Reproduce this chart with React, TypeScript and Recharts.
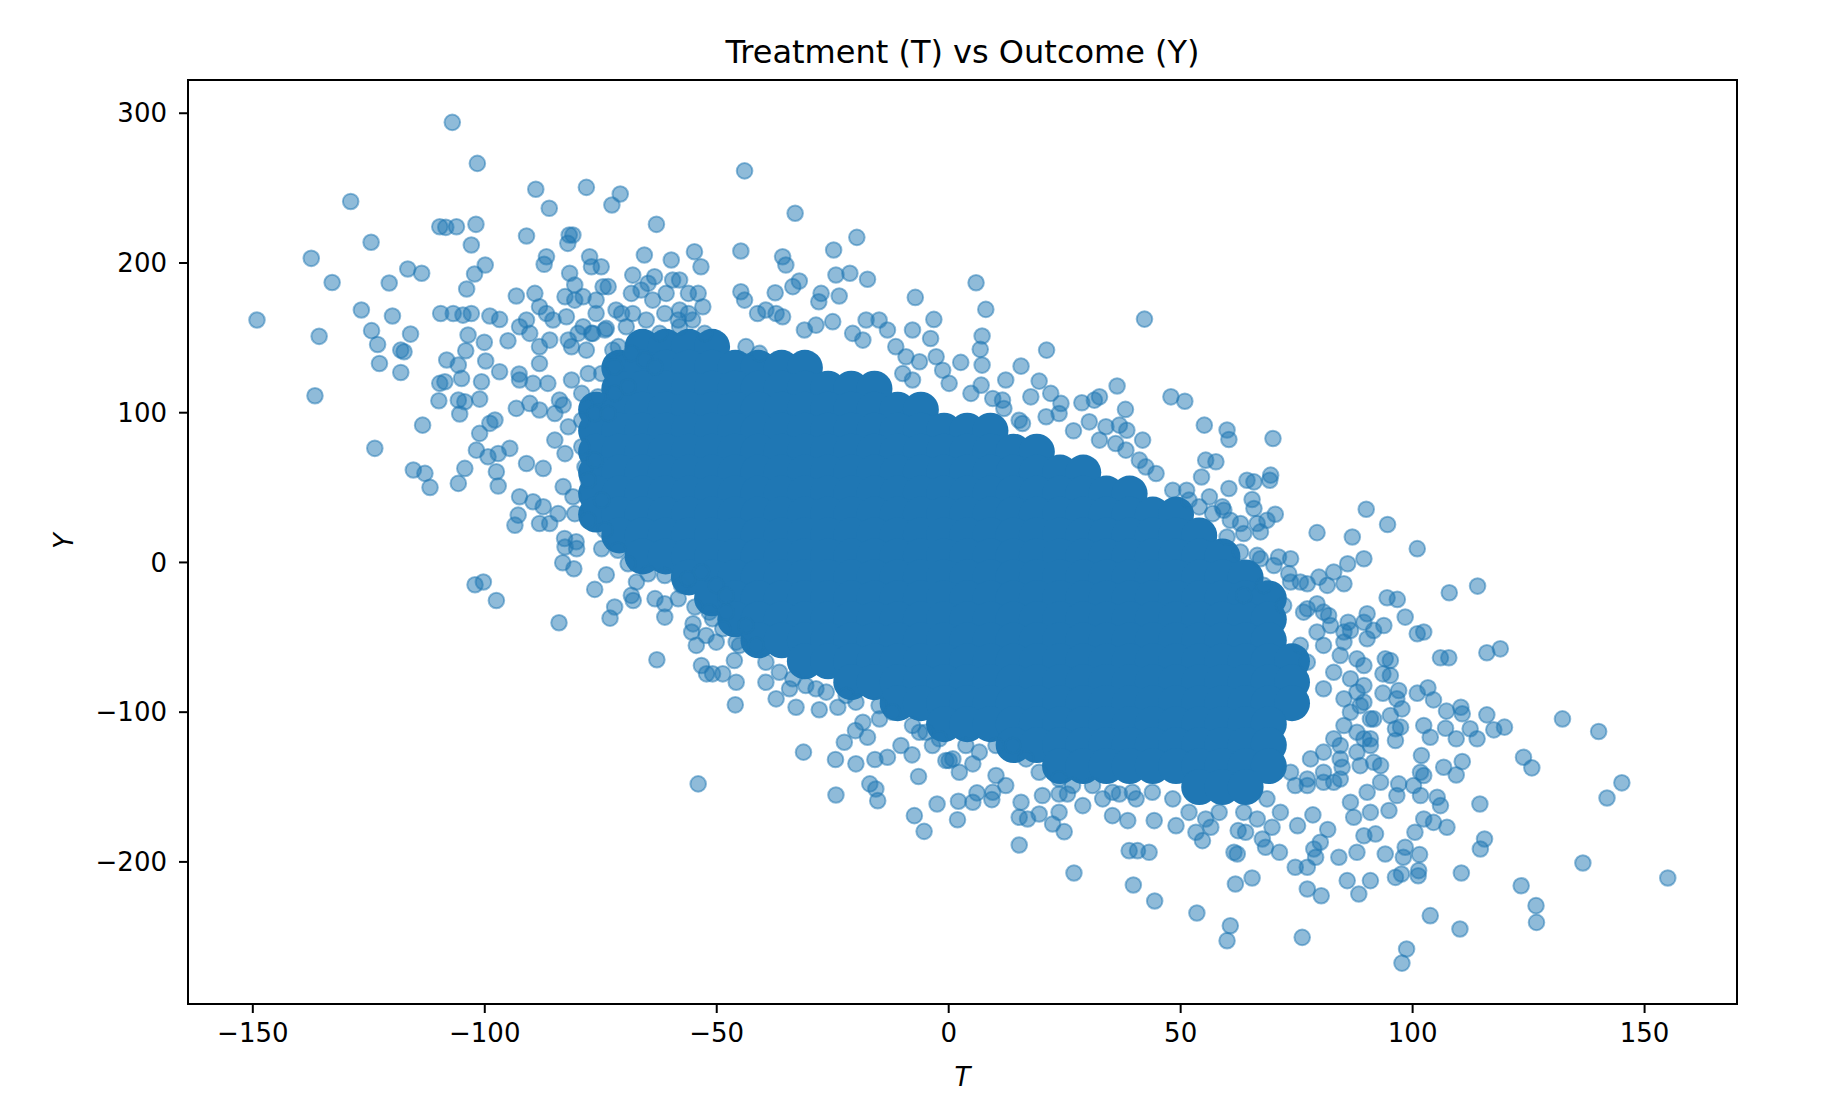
import React from 'react';
import { ScatterChart, Scatter, XAxis, YAxis, ReferenceArea } from 'recharts';

// axis setup
const tTicks = [-150, -100, -50, 0, 50, 100, 150];
const yTicks = [-200, -100, 0, 100, 200, 300];
const tDomain = [-163.97, 169.92];
const yDomain = [-294.9, 322.2];

// the saturated centre of the cloud, traced row by row (Y level -> T positions)
const coreRowY = [144, 130, 116, 102, 88, 74, 60, 46, 32, 18, 4, -10, -24, -38, -52, -66, -80, -94, -108, -122, -136, -150];
const coreRowT = [
  [-66, -61, -56, -51],
  [-71, -66, -61, -56, -51, -46, -41, -36, -31],
  [-71, -66, -61, -56, -51, -46, -41, -36, -31, -26, -21, -16],
  [-76, -71, -66, -61, -56, -51, -46, -41, -36, -31, -26, -21, -16, -11, -6],
  [-76, -71, -66, -61, -56, -51, -46, -41, -36, -31, -26, -21, -16, -11, -6, -1, 4, 9],
  [-76, -71, -66, -61, -56, -51, -46, -41, -36, -31, -26, -21, -16, -11, -6, -1, 4, 9, 14, 19],
  [-76, -71, -66, -61, -56, -51, -46, -41, -36, -31, -26, -21, -16, -11, -6, -1, 4, 9, 14, 19, 24, 29],
  [-76, -71, -66, -61, -56, -51, -46, -41, -36, -31, -26, -21, -16, -11, -6, -1, 4, 9, 14, 19, 24, 29, 34, 39],
  [-76, -71, -66, -61, -56, -51, -46, -41, -36, -31, -26, -21, -16, -11, -6, -1, 4, 9, 14, 19, 24, 29, 34, 39, 44, 49],
  [-71, -66, -61, -56, -51, -46, -41, -36, -31, -26, -21, -16, -11, -6, -1, 4, 9, 14, 19, 24, 29, 34, 39, 44, 49, 54],
  [-66, -61, -56, -51, -46, -41, -36, -31, -26, -21, -16, -11, -6, -1, 4, 9, 14, 19, 24, 29, 34, 39, 44, 49, 54, 59],
  [-56, -51, -46, -41, -36, -31, -26, -21, -16, -11, -6, -1, 4, 9, 14, 19, 24, 29, 34, 39, 44, 49, 54, 59, 64],
  [-51, -46, -41, -36, -31, -26, -21, -16, -11, -6, -1, 4, 9, 14, 19, 24, 29, 34, 39, 44, 49, 54, 59, 64, 69],
  [-46, -41, -36, -31, -26, -21, -16, -11, -6, -1, 4, 9, 14, 19, 24, 29, 34, 39, 44, 49, 54, 59, 64, 69],
  [-41, -36, -31, -26, -21, -16, -11, -6, -1, 4, 9, 14, 19, 24, 29, 34, 39, 44, 49, 54, 59, 64, 69],
  [-31, -26, -21, -16, -11, -6, -1, 4, 9, 14, 19, 24, 29, 34, 39, 44, 49, 54, 59, 64, 69, 74],
  [-21, -16, -11, -6, -1, 4, 9, 14, 19, 24, 29, 34, 39, 44, 49, 54, 59, 64, 69, 74],
  [-11, -6, -1, 4, 9, 14, 19, 24, 29, 34, 39, 44, 49, 54, 59, 64, 69, 74],
  [-1, 4, 9, 14, 19, 24, 29, 34, 39, 44, 49, 54, 59, 64, 69],
  [14, 19, 24, 29, 34, 39, 44, 49, 54, 59, 64, 69],
  [24, 29, 34, 39, 44, 49, 54, 59, 64, 69],
  [54, 59, 64],
];

// [T, Y] points around the upper-left of the cloud
const leftTail = [
  [-107.0, 293.9], [-101.6, 266.5], [-128.9, 241.1], [-89.0, 249.2], [-78.1, 250.5], [-70.8, 246.1],
  [-72.6, 238.7], [-86.1, 236.5], [-63.0, 225.8], [-109.7, 224.2], [-108.4, 223.8], [-106.1, 224.2],
  [-101.9, 225.8], [-124.5, 213.8], [-102.9, 212.0], [-91.0, 218.0], [-137.4, 203.1], [-132.9, 187.0],
  [-120.6, 186.6], [-116.6, 196.0], [-113.6, 193.1], [-99.9, 198.6], [-102.2, 192.6], [-103.9, 182.6],
  [-149.1, 161.9], [-135.7, 151.0], [-126.6, 168.6], [-119.9, 164.6], [-124.4, 154.8], [-123.1, 145.6],
  [-122.7, 132.9], [-118.1, 141.8], [-117.4, 140.7], [-118.1, 126.9], [-116.0, 152.5], [-136.6, 111.3],
  [-123.7, 76.2], [-113.4, 91.7], [-115.4, 61.7], [-112.9, 59.5], [-111.8, 50.1], [-109.5, 166.3],
  [-106.8, 166.3], [-104.7, 165.2], [-102.9, 166.3], [-98.9, 164.6], [-96.8, 162.3], [-103.6, 151.9],
  [-100.1, 147.0], [-104.1, 141.4], [-108.2, 135.2], [-105.7, 131.8], [-99.8, 134.5], [-109.7, 119.6],
  [-108.6, 120.7], [-105.0, 122.9], [-100.7, 120.7], [-96.8, 127.4], [-92.6, 125.8], [-109.9, 108.0],
  [-105.7, 108.4], [-104.3, 107.3], [-101.1, 109.1], [-105.4, 99.1], [-95.0, 148.1], [-93.2, 177.9],
  [-89.2, 179.7], [-81.8, 218.7], [-81.0, 218.7], [-82.1, 213.1], [-86.7, 204.2], [-87.2, 199.1],
  [-65.6, 205.3], [-59.8, 202.0], [-54.8, 207.5], [-81.7, 193.1], [-80.6, 185.3], [-68.1, 191.9],
  [-63.4, 190.8], [-59.5, 188.6], [-58.0, 188.6], [-53.4, 197.5], [-98.9, 92.9], [-101.1, 86.2],
  [-97.8, 95.1], [-101.8, 75.0], [-99.3, 70.6], [-97.1, 72.8], [-94.6, 76.2], [-104.3, 62.8],
  [-105.7, 52.8], [-97.5, 60.6], [-97.1, 51.0], [-92.5, 43.9], [-92.8, 31.6], [-93.5, 24.9],
  [-89.6, 40.5], [-87.4, 37.2], [-88.2, 26.0], [-86.0, 26.0], [-82.8, 16.0], [-80.3, 13.8],
  [-91.0, 66.1], [-87.4, 62.8], [-83.1, 50.6], [-81.0, 43.9], [-93.2, 102.9], [-90.3, 106.2],
  [-88.2, 101.8], [-83.9, 108.4], [-83.1, 105.1], [-92.5, 121.8], [-89.6, 119.6], [-86.4, 119.6],
  [-88.2, 144.1], [-88.2, 132.9], [-86.0, 148.5], [-91.0, 161.9], [-92.5, 157.4], [-90.3, 153.0],
  [-88.2, 170.8], [-86.7, 166.3], [-85.3, 161.9], [-78.8, 177.5], [-76.0, 175.2], [-74.5, 184.1],
  [-82.4, 164.1], [-78.8, 157.4], [-76.7, 153.0], [-73.8, 156.3], [-76.0, 166.3], [-71.7, 168.6],
  [-69.5, 157.4], [-81.3, 144.1], [-78.1, 141.8], [-72.4, 141.8], [-77.4, 204.2], [-77.0, 197.5],
  [-74.9, 197.5], [-68.4, 179.7], [-66.3, 181.9], [-68.1, 166.3], [-63.8, 175.2], [-60.9, 179.7],
  [-58.0, 168.6], [-55.2, 161.9], [-53.0, 170.8], [-65.2, 161.9], [-62.3, 153.0], [-58.0, 157.4],
  [-82.7, 177.5], [-80.6, 175.2], [-73.4, 184.2], [-64.8, 186.4], [-56.1, 179.7], [-54.0, 179.7],
  [-61.2, 166.3], [-58.3, 161.9], [-56.1, 166.3], [-52.6, 153.0], [-70.5, 166.3], [-74.1, 155.2],
  [-77.0, 153.0], [-79.9, 153.0], [-82.0, 148.5], [-71.2, 144.1], [-68.4, 139.6], [-65.5, 135.1],
  [-63.3, 130.7], [-77.7, 126.2], [-74.8, 126.2], [-72.0, 130.7], [-81.3, 121.8], [-79.1, 112.9],
  [-75.6, 110.6], [-72.0, 112.9], [-69.1, 117.3], [-84.9, 99.5], [-82.0, 90.6], [-79.1, 95.0],
  [-76.3, 99.5], [-73.4, 99.5], [-84.9, 81.7], [-82.7, 72.7], [-79.1, 77.2], [-78.4, 63.8],
  [-76.3, 68.3], [-80.6, 32.6], [-77.7, 28.2], [-84.2, 32.6], [-77.7, 54.9], [-74.8, 41.6],
  [-74.1, 21.5],
  [-102.1, -14.9], [-100.3, -13.1], [-97.5, -25.4], [-84.0, -40.3], [-54.0, -147.9], [-83.2, -0.2],
  [-80.8, -4.2], [-76.3, -18.0], [-73.8, -8.2], [-72.0, -29.8], [-73.0, -37.2], [-68.4, -22.0],
  [-68.0, -25.4], [-67.3, -13.1], [-64.8, -7.5], [-61.2, -8.7], [-63.3, -24.2], [-61.2, -27.6],
  [-61.2, -36.5], [-58.3, -24.2], [-69.1, -0.9], [-71.3, 8.1], [-74.8, 9.2], [-82.7, 10.3],
  [-80.2, 9.2], [-62.9, -65.0], [-54.7, -29.8], [-55.1, -41.0], [-55.4, -46.5], [-54.4, -55.4],
  [-53.3, -68.8], [-52.2, -74.4], [-57.6, -15.3], [-56.2, -10.9], [-53.3, -6.4],
];

// points along the upper edge of the cloud
const upperEdge = [
  [-44.0, 261.5], [-33.1, 233.2], [-44.8, 208.0], [-19.8, 217.1], [-35.8, 204.2], [-35.1, 198.6],
  [-24.8, 208.7], [-24.3, 192.0], [-21.3, 193.1], [-17.5, 189.1], [-32.2, 187.9], [-33.6, 184.2],
  [-27.5, 179.7], [-28.0, 174.1], [-23.6, 177.9], [-37.4, 180.1], [-44.8, 180.8], [-44.0, 175.2],
  [-7.2, 177.0], [5.9, 186.8], [8.0, 169.0], [-3.2, 162.3], [42.2, 162.5], [7.2, 151.2],
  [-7.8, 155.2], [-3.9, 149.6], [21.1, 141.8], [2.6, 133.6], [15.6, 131.1], [12.3, 121.8],
  [19.5, 121.1], [6.8, 142.3], [7.2, 131.8], [7.0, 118.4], [36.3, 117.8], [17.7, 110.6],
  [22.0, 112.9], [24.2, 106.2], [28.7, 106.6], [31.4, 108.4], [32.5, 110.6], [38.1, 102.2],
  [47.9, 110.6], [50.9, 107.7], [55.1, 91.7], [26.9, 87.9], [30.3, 93.9], [33.9, 90.6],
  [36.8, 91.7], [38.4, 88.3], [41.8, 81.7], [55.4, 68.3], [57.6, 67.2], [54.5, 57.1],
  [51.3, 48.2], [56.2, 43.8], [59.0, 37.1], [11.6, 108.4], [11.9, 102.8], [15.2, 95.0],
  [21.0, 97.3], [-41.2, 166.3], [-39.4, 168.6], [-37.2, 166.3], [-35.8, 164.1], [-28.6, 158.5],
  [-25.0, 160.8], [-17.8, 161.9], [-15.0, 161.9], [-13.2, 155.2], [-20.7, 153.0], [-18.5, 148.5],
  [-11.4, 144.1], [-9.2, 137.4], [-31.1, 155.2], [-43.7, 144.1], [-40.8, 139.6], [-6.3, 134.0],
  [-2.7, 137.4], [-1.3, 128.4], [0.1, 119.6], [-9.9, 126.2], [-7.8, 121.8], [4.8, 112.9],
  [9.5, 109.5], [15.9, 92.8], [23.8, 99.5], [32.5, 81.7], [36.0, 79.4], [38.2, 75.0],
  [41.1, 68.3], [42.5, 63.8], [44.7, 59.4], [48.3, 48.2], [51.8, 41.6], [54.0, 37.1],
  [56.9, 32.6],
  [69.9, 82.8], [60.0, 88.4], [60.4, 82.1], [64.3, 54.9], [65.8, 53.8], [69.4, 58.3],
  [69.2, 54.9], [60.4, 49.4], [65.4, 42.0], [65.8, 36.0], [70.4, 32.2], [90.0, 35.5],
  [94.6, 25.3], [79.4, 19.9], [87.0, 17.0], [59.3, 34.9], [60.7, 28.2], [62.9, 26.0],
  [66.5, 26.0], [68.6, 28.2], [60.0, 17.0], [63.6, 19.3], [67.2, 20.4],
];

// points along the lower edge of the cloud
const lowerEdge = [
  [-46.0, -95.1], [-31.3, -126.7], [-24.3, -155.3], [-24.4, -131.6], [-20.0, -134.5], [-22.5, -120.1],
  [-20.1, -112.3], [-15.9, -131.6], [-13.2, -130.1], [-17.0, -147.9], [-15.7, -151.3], [-15.3, -159.1],
  [-7.9, -128.5], [-6.5, -143.0], [-7.4, -169.1], [-5.3, -179.6], [-2.5, -161.3], [2.1, -159.5],
  [5.2, -160.2], [6.1, -153.9], [1.9, -171.8], [9.3, -158.4], [15.2, -188.7], [27.0, -207.4],
  [39.8, -215.4], [44.4, -226.1], [53.5, -234.1], [38.9, -192.5], [40.7, -192.5], [43.2, -193.6],
  [15.2, -170.2], [17.0, -171.3], [19.5, -168.0], [22.4, -174.7], [24.9, -179.8], [23.8, -166.9],
  [28.9, -162.4], [25.6, -154.6], [35.3, -169.1], [38.6, -172.4], [44.3, -172.4], [49.0, -175.8],
  [53.3, -180.2], [54.7, -185.8], [56.5, -176.9], [15.6, -160.2], [20.2, -155.7], [23.8, -154.6],
  [33.2, -157.9], [36.8, -154.6], [40.4, -157.9], [0.1, -132.3], [2.3, -140.1], [5.2, -134.5],
  [10.2, -142.3], [12.3, -149.0], [9.5, -153.5], [-32.9, -96.7], [-27.9, -98.4], [-23.9, -96.7],
  [-39.4, -80.0], [-37.2, -91.1], [-34.3, -84.4], [-18.5, -106.7], [-14.9, -104.5], [-17.5, -116.7],
  [-10.3, -122.3], [-6.3, -113.4], [-3.5, -122.3], [-0.6, -132.3], [0.9, -131.2], [-50.9, -74.4],
  [-48.7, -74.4], [-45.8, -80.0], [-46.2, -65.5], [-45.1, -55.4], [-52.3, -48.8], [-51.6, -33.2],
  [-48.0, -33.2], [-45.8, -53.2], [-50.1, -53.2],
  [-50.1, -15.3], [-48.0, -22.0], [-50.9, -37.6], [-48.7, -44.3], [-43.7, -42.1], [-41.5, -55.4],
  [-39.4, -66.6], [-36.5, -73.3], [-33.6, -77.7], [-30.8, -82.2], [-28.6, -84.4], [-26.4, -86.6],
  [-22.1, -88.9], [-20.0, -93.3], [-15.0, -95.6], [-12.1, -100.0], [-7.8, -108.9], [-4.9, -113.4],
  [-2.0, -117.8], [3.7, -122.3], [6.6, -126.7], [10.2, -122.3], [13.8, -122.3], [16.7, -131.2],
  [19.5, -140.1], [23.8, -144.6], [26.7, -149.0], [31.0, -149.0], [35.3, -153.5], [39.6, -153.5],
  [43.9, -153.5], [48.3, -157.9], [51.8, -166.9], [55.4, -171.3], [58.3, -166.9],
];

// points on the lower-right side of the cloud
const rightTail = [
  [114.0, -15.8], [107.9, -20.2], [132.3, -104.5], [140.1, -112.9], [145.1, -147.2], [141.9, -157.3],
  [136.7, -200.7], [155.0, -210.7], [126.6, -229.2], [126.7, -240.4], [123.4, -215.9], [119.8, -110.0],
  [117.5, -111.8], [116.0, -101.8], [118.9, -57.7], [116.0, -60.3], [106.0, -63.7], [107.8, -63.7],
  [98.4, -36.5], [94.5, -23.6], [96.7, -24.7], [101.0, -47.6], [102.4, -46.5], [123.9, -130.1],
  [125.7, -137.2], [114.5, -161.3], [115.5, -184.7], [114.6, -191.4], [110.5, -207.4], [103.8, -235.9],
  [110.2, -244.8], [98.7, -258.2], [97.7, -267.6], [76.2, -250.4], [88.4, -221.4], [90.9, -212.5],
  [85.9, -212.5], [77.3, -218.1], [80.3, -222.6], [61.8, -214.8], [65.4, -210.7], [60.7, -242.6],
  [60.0, -252.6], [96.3, -210.3], [97.6, -208.1], [101.2, -209.2], [101.3, -205.8], [98.0, -196.9],
  [101.5, -195.1], [98.4, -190.2], [94.1, -194.7], [92.0, -181.3], [89.5, -182.5], [88.0, -193.6],
  [84.1, -196.9], [79.1, -196.9], [78.7, -191.4], [74.7, -203.6], [77.3, -203.6], [71.3, -193.6],
  [68.3, -190.2], [61.5, -193.6], [62.2, -194.7], [62.4, -179.1], [64.0, -180.2], [67.6, -184.7],
  [69.7, -176.9], [75.2, -175.8], [78.5, -168.6], [81.7, -178.4], [80.1, -186.9], [100.5, -180.2],
  [102.4, -171.3], [104.5, -173.6], [107.4, -176.9], [106.0, -162.4], [105.3, -156.8], [101.7, -155.7],
  [96.6, -155.7], [94.9, -165.7], [93.1, -146.8], [97.0, -147.9], [100.2, -149.0], [102.4, -142.3],
  [101.7, -140.1], [106.7, -136.8], [109.4, -141.9], [110.7, -133.0], [101.9, -128.9], [96.3, -118.9],
  [97.4, -110.0], [102.4, -108.9], [103.8, -116.7], [107.1, -110.7], [109.4, -117.8], [112.4, -111.1],
  [113.9, -117.8], [110.4, -96.7], [110.7, -101.1], [107.3, -99.3], [104.5, -91.8], [103.3, -83.7],
  [101.0, -87.3], [97.0, -85.5], [93.6, -87.3], [96.6, -91.1], [97.7, -97.8], [95.2, -102.2],
  [96.3, -111.1], [90.9, -166.9], [87.3, -170.2], [86.6, -160.2], [90.2, -153.5], [83.0, -146.8],
  [84.4, -144.6], [80.8, -146.8], [77.3, -149.0], [74.7, -149.0], [84.8, -136.8], [88.7, -135.7],
  [91.6, -133.4], [93.1, -135.7], [88.0, -126.7], [84.4, -122.3], [90.9, -122.3], [89.5, -117.8],
  [91.6, -104.5], [89.5, -93.3], [88.0, -86.6], [86.6, -100.0], [94.1, -64.4], [95.2, -65.5],
  [93.6, -74.4], [95.2, -75.5], [89.5, -68.8], [90.2, -51.0], [91.6, -45.4], [93.8, -42.1],
  [89.5, -39.9], [90.2, -34.3], [86.1, -39.9], [86.6, -45.4], [85.2, -53.2], [89.5, 2.5],
  [86.0, -0.9], [83.0, -6.4], [79.8, -9.8], [77.3, -14.2], [81.6, -15.3], [85.2, -14.2],
  [71.1, 3.6], [67.2, 2.5], [73.3, -7.5], [73.7, -13.1], [77.3, -30.9], [79.4, -27.6],
  [81.9, -35.4], [101.0, 9.2],
  [62.9, 6.9], [66.5, 4.7], [70.1, -2.0], [73.7, 2.5], [75.8, -13.1], [67.9, -15.3],
  [63.6, -22.0], [72.2, -28.7], [76.5, -33.2], [80.8, -33.2], [82.3, -42.1], [85.2, -46.5],
  [79.4, -46.5], [75.8, -55.4], [80.8, -55.4], [84.4, -62.1], [88.0, -64.4], [77.3, -66.6],
  [83.0, -73.3], [86.6, -77.7], [89.5, -82.2], [80.8, -84.4], [85.2, -91.1], [88.7, -95.6],
  [90.9, -104.5], [85.2, -108.9], [88.0, -113.4], [83.0, -117.8], [90.9, -117.8], [80.8, -126.7],
  [84.4, -131.2], [78.0, -131.2], [73.7, -140.1], [77.3, -144.6], [80.8, -140.1], [68.6, -157.9],
  [71.5, -166.9], [66.5, -171.3], [63.6, -166.9],
];

const BLUE = '#1f77b4';
const FONT = "'DejaVu Sans', sans-serif";

const toPoints = (pairs: number[][]) => pairs.map(([t, y]) => ({ t, y }));
const corePoints = coreRowY.flatMap((y, i) => coreRowT[i].map((t) => ({ t, y })));
const cloudPoints = toPoints([...leftTail, ...upperEdge, ...lowerEdge, ...rightTail]);

const fmt = (v: number) => (v < 0 ? '\u2212' + Math.abs(v) : String(v));

const CoreDot = (props: any) => (
  <circle cx={props.cx} cy={props.cy} r={18} fill={BLUE} stroke="none" />
);

const Dot = (props: any) => (
  <circle
    cx={props.cx}
    cy={props.cy}
    r={7.8}
    fill={BLUE}
    fillOpacity={0.5}
    stroke={BLUE}
    strokeOpacity={0.5}
    strokeWidth={2}
  />
);

const W = 1826;
const H = 1094;

export default function App() {
  const tickStyle = { fontSize: 26, fill: '#000', fontFamily: FONT };
  return (
    <div style={{ position: 'relative', width: W, height: H, background: '#fff' }}>
      <ScatterChart width={W} height={H} margin={{ top: 72, right: 97, bottom: 38, left: 60 }}>
        <XAxis
          type="number"
          dataKey="t"
          domain={tDomain}
          ticks={tTicks}
          allowDataOverflow
          height={60}
          tickFormatter={fmt}
          tick={tickStyle}
          tickSize={9}
          tickMargin={11}
          axisLine={{ stroke: '#000', strokeWidth: 2 }}
          tickLine={{ stroke: '#000', strokeWidth: 2 }}
        />
        <YAxis
          type="number"
          dataKey="y"
          domain={yDomain}
          ticks={yTicks}
          allowDataOverflow
          width={120}
          tickFormatter={fmt}
          tick={tickStyle}
          tickSize={9}
          tickMargin={12}
          axisLine={{ stroke: '#000', strokeWidth: 2 }}
          tickLine={{ stroke: '#000', strokeWidth: 2 }}
        />
        <Scatter data={corePoints} shape={CoreDot} isAnimationActive={false} />
        <Scatter data={cloudPoints} shape={Dot} isAnimationActive={false} />
        <ReferenceArea
          x1={tDomain[0]}
          x2={tDomain[1]}
          y1={yDomain[0]}
          y2={yDomain[1]}
          fill="none"
          stroke="#000"
          strokeWidth={2}
          ifOverflow="visible"
        />
      </ScatterChart>
      <svg
        width={W}
        height={H}
        style={{ position: 'absolute', left: 0, top: 0, pointerEvents: 'none' }}
      >
        <text x={954.5} y={55} textAnchor="middle" fontSize={32} fontFamily={FONT} fill="#000">
          Treatment (T) vs Outcome (Y)
        </text>
        <text x={954.5} y={1078} textAnchor="middle" fontSize={26} fontStyle="italic" fontFamily={FONT} fill="#000">
          T
        </text>
        <text
          transform="translate(65,533) rotate(-90)"
          textAnchor="middle"
          fontSize={26}
          fontStyle="italic"
          fontFamily={FONT}
          fill="#000"
        >
          Y
        </text>
      </svg>
    </div>
  );
}
